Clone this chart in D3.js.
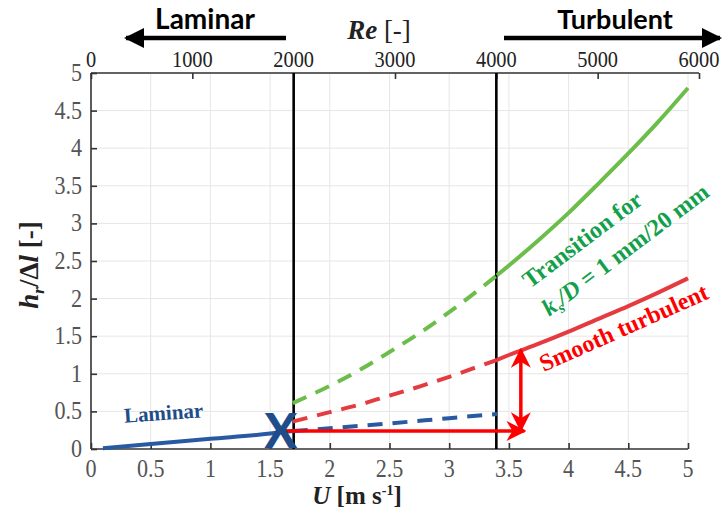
<!DOCTYPE html>
<html><head><meta charset="utf-8">
<script src="https://cdn.jsdelivr.net/npm/d3@7"></script>
<style>
html,body{margin:0;padding:0;background:#fff;}
svg{display:block;}
text.tl{font-family:'Liberation Serif','Times New Roman',serif;}
</style></head>
<body>
<svg id="chart" width="723" height="510"></svg>
<script>
// ---------- data ----------
const uTicks = [0,0.5,1,1.5,2,2.5,3,3.5,4,4.5,5];
const yTicks = [0,0.5,1,1.5,2,2.5,3,3.5,4,4.5,5];
const reTicks = [0,1000,2000,3000,4000,5000,6000];
const reBounds = [2000, 4000];          // laminar / turbulent limits
const uBounds = [1.69, 3.40];           // same limits in U
// laminar (blue)
const uLaminar = [0.1, 0.5, 1.0, 1.5, 1.69, 2.0, 2.5, 3.0, 3.4];
const hLaminar = [0.01, 0.065, 0.135, 0.205, 0.24, 0.275, 0.34, 0.41, 0.465];
// smooth turbulent (red) and transition (green)
const uTurb = [1.69, 2.0, 2.25, 2.5, 2.75, 3.0, 3.25, 3.4, 3.5, 3.75, 4.0, 4.25, 4.5, 4.75, 5.0];
const hSmooth = [0.365, 0.49, 0.59, 0.71, 0.83, 0.96, 1.10, 1.185, 1.25, 1.40, 1.56, 1.73, 1.90, 2.08, 2.27];
const hTransition = [0.61, 0.84, 1.05, 1.29, 1.54, 1.82, 2.12, 2.31, 2.44, 2.78, 3.14, 3.53, 3.93, 4.35, 4.80];
// annotation points
const criticalPoint = {u: 1.59, h: 0.235};
const arrowH = {u0: 1.62, u1: 3.63, h: 0.24};
const arrowV = {u: 3.60, h0: 0.25, h1: 1.32};

// ---------- layout ----------
const svg = d3.select("#chart");
const X0 = 91, X1 = 688, Y0 = 449, Y1 = 73, XR = 699;
const x = d3.scaleLinear().domain([0,5]).range([X0,X1]);
const y = d3.scaleLinear().domain([0,5]).range([Y0,Y1]);
const xRe = d3.scaleLinear().domain([0,6000]).range([X0,XR]);
const serif = "'Liberation Serif','Times New Roman',serif";
const sans = "Lato,'Open Sans',sans-serif";

const cBlue = "#2859a3", cRed = "#e53a3f", cGreen = "#6cbd4a";
const cBlueTxt = "#1f4d8a", cGreenTxt = "#13a04c", cArrow = "#ff0000";

// defs: arrowheads
const defs = svg.append("defs");
defs.append("marker").attr("id","redHead").attr("viewBox","0 0 10 10")
  .attr("refX", 9).attr("refY", 5).attr("markerWidth", 20).attr("markerHeight", 20)
  .attr("markerUnits","userSpaceOnUse").attr("orient","auto-start-reverse")
  .append("path").attr("d","M0,0 L10,5 L0,10 L3,5 Z").attr("fill", cArrow);
defs.append("marker").attr("id","blackHead").attr("viewBox","0 0 10 10")
  .attr("refX", 9).attr("refY", 5).attr("markerWidth", 24).attr("markerHeight", 20)
  .attr("markerUnits","userSpaceOnUse").attr("orient","auto-start-reverse")
  .append("path").attr("d","M0,0 L10,5 L0,10 Z").attr("fill", "#000");

// grid
const grid = svg.append("g");
grid.selectAll("line.gx").data(uTicks.filter(d=>d>0)).join("line")
  .attr("x1", d=>x(d)).attr("x2", d=>x(d)).attr("y1", Y0).attr("y2", Y1)
  .attr("stroke","#e6e6e6").attr("stroke-width",1);
grid.selectAll("line.gy").data(yTicks.filter(d=>d>0)).join("line")
  .attr("x1", X0).attr("x2", X1).attr("y1", d=>y(d)).attr("y2", d=>y(d))
  .attr("stroke","#e6e6e6").attr("stroke-width",1);

// axes (lines + ticks from d3 axes, labels drawn separately)
const axisColor = "#333";
const gB = svg.append("g").attr("transform",`translate(0,${Y0})`)
  .call(d3.axisBottom(x).tickValues(uTicks).tickSize(-6).tickFormat(()=>""));
const gL = svg.append("g").attr("transform",`translate(${X0},0)`)
  .call(d3.axisLeft(y).tickValues(yTicks).tickSize(-6).tickFormat(()=>""));
const gT = svg.append("g").attr("transform",`translate(0,${Y1})`)
  .call(d3.axisTop(xRe).tickValues(reTicks).tickSize(-6).tickFormat(()=>""));
[gB,gL,gT].forEach(g=>{
  g.select(".domain").attr("stroke",axisColor).attr("stroke-width",1.6);
  g.selectAll(".tick line").attr("stroke",axisColor).attr("stroke-width",1.6);
  g.selectAll(".tick text").remove();
});
gB.select(".domain").attr("d",`M${X0},0H${X1}`);
gL.select(".domain").attr("d",`M0,${Y0}V${Y1}`);
gT.select(".domain").attr("d",`M${X0},0H${XR}`);

// tick labels (tall, slightly condensed serif as in the reference)
const sx = 0.85;
const labels = svg.append("g");
labels.selectAll("text.bl").data(uTicks).join("text").attr("class","tl")
  .attr("transform", d=>`translate(${x(d)},${Y0+28}) scale(${sx},1)`).attr("text-anchor","middle")
  .attr("font-size",26).attr("fill","#555").text(d=>d3.format("")(d));
labels.selectAll("text.ll").data(yTicks).join("text").attr("class","tl")
  .attr("transform", d=>`translate(${X0-9},${y(d)+8}) scale(${sx},1)`).attr("text-anchor","end")
  .attr("font-size",26).attr("fill","#555").text(d=>d3.format("")(d));
labels.selectAll("text.tt").data(reTicks).join("text").attr("class","tl")
  .attr("transform", d=>`translate(${xRe(d)},${Y1-6}) scale(${sx},1)`).attr("text-anchor","middle")
  .attr("font-size",24).attr("fill","#222").text(d=>d3.format("")(d));

// regime boundaries
svg.selectAll("line.bound").data(reBounds).join("line")
  .attr("x1", d=>xRe(d)).attr("x2", d=>xRe(d)).attr("y1", Y0).attr("y2", Y1)
  .attr("stroke","#000").attr("stroke-width",2.6);

// curves
const line = d3.line().x(d=>x(d[0])).y(d=>y(d[1])).curve(d3.curveMonotoneX);
function seg(us, hs, lo, hi){ return us.map((u,i)=>[u,hs[i]]).filter(p=>p[0]>=lo-1e-9 && p[0]<=hi+1e-9); }
const curves = [
  {pts: seg(uLaminar,hLaminar,0,uBounds[0]), color:cBlue, dash:null},
  {pts: seg(uLaminar,hLaminar,uBounds[0],uBounds[1]), color:cBlue, dash:"15,10"},
  {pts: seg(uTurb,hSmooth,uBounds[0],uBounds[1]), color:cRed, dash:"15,10"},
  {pts: seg(uTurb,hSmooth,uBounds[1],5), color:cRed, dash:null},
  {pts: seg(uTurb,hTransition,uBounds[0],uBounds[1]), color:cGreen, dash:"15,10"},
  {pts: seg(uTurb,hTransition,uBounds[1],5), color:cGreen, dash:null}
];
svg.selectAll("path.curve").data(curves).join("path")
  .attr("d", d=>line(d.pts)).attr("fill","none").attr("stroke", d=>d.color)
  .attr("stroke-width",4).attr("stroke-dasharray", d=>d.dash);

// red arrows
svg.append("line").attr("x1", x(arrowH.u0)).attr("x2", x(arrowH.u1))
  .attr("y1", y(arrowH.h)).attr("y2", y(arrowH.h))
  .attr("stroke",cArrow).attr("stroke-width",3.5).attr("marker-end","url(#redHead)");
svg.append("line").attr("x1", x(arrowV.u)).attr("x2", x(arrowV.u))
  .attr("y1", y(arrowV.h0)).attr("y2", y(arrowV.h1))
  .attr("stroke",cArrow).attr("stroke-width",3.5)
  .attr("marker-end","url(#redHead)").attr("marker-start","url(#redHead)");

// X marker
svg.append("text").attr("x", x(criticalPoint.u)).attr("y", y(criticalPoint.h)+17)
  .attr("text-anchor","middle").attr("font-family",sans).attr("font-weight",900)
  .attr("font-size",48).attr("fill",cBlueTxt).text("X");

// in-plot labels
svg.append("text").attr("transform","translate(164,420) rotate(-4)")
  .attr("text-anchor","middle").attr("font-family",serif).attr("font-weight","bold")
  .attr("font-size",21).attr("fill",cBlueTxt).text("Laminar");
svg.append("text").attr("transform","translate(627,335) rotate(-24)")
  .attr("text-anchor","middle").attr("font-family",serif).attr("font-weight","bold")
  .attr("font-size",24).attr("fill",cArrow).text("Smooth turbulent");
svg.append("text").attr("transform","translate(587,246) rotate(-37)")
  .attr("text-anchor","middle").attr("font-family",serif).attr("font-weight","bold")
  .attr("font-size",24).attr("fill",cGreenTxt).text("Transition for");
const t2 = svg.append("text").attr("transform","translate(630,256) rotate(-37)")
  .attr("text-anchor","middle").attr("font-family",serif).attr("font-weight","bold")
  .attr("font-size",24).attr("fill",cGreenTxt);
t2.append("tspan").attr("font-style","italic").text("k");
t2.append("tspan").attr("font-size",15).attr("dy",5).attr("font-style","italic").text("s");
t2.append("tspan").attr("dy",-5).attr("font-style","italic").text("/D");
t2.append("tspan").text(" = 1 mm/20 mm");

// axis titles
const xt = svg.append("text").attr("x",357).attr("y",504).attr("text-anchor","middle")
  .attr("font-family",serif).attr("font-weight","bold").attr("font-size",25).attr("fill","#222");
xt.append("tspan").attr("font-style","italic").text("U");
xt.append("tspan").text(" [m s");
xt.append("tspan").attr("font-size",14).attr("dy",-9).text("-1");
xt.append("tspan").attr("dy",9).text("]");

const yt = svg.append("text").attr("transform","translate(38,265) rotate(-90)").attr("text-anchor","middle")
  .attr("font-family",serif).attr("font-weight","bold").attr("font-size",27).attr("fill","#222");
yt.append("tspan").attr("font-style","italic").text("h");
yt.append("tspan").attr("font-style","italic").attr("font-size",17).attr("dy",6).text("r");
yt.append("tspan").attr("dy",-6).text("/Δ");
yt.append("tspan").attr("font-style","italic").text("l");
yt.append("tspan").text(" [-]");

const rt = svg.append("text").attr("x",379).attr("y",39).attr("text-anchor","middle")
  .attr("font-family",serif).attr("font-size",27).attr("fill","#222");
rt.append("tspan").attr("font-style","italic").attr("font-weight","bold").text("Re");
rt.append("tspan").text(" [-]");

// regime headers with arrows
svg.append("text").attr("x",205).attr("y",29).attr("text-anchor","middle")
  .attr("font-family",sans).attr("font-weight","bold").attr("font-size",28).attr("fill","#000").text("Laminar");
svg.append("text").attr("x",615).attr("y",29).attr("text-anchor","middle")
  .attr("font-family",sans).attr("font-weight","bold").attr("font-size",27).attr("fill","#000").text("Turbulent");
svg.append("line").attr("x1",286).attr("x2",126).attr("y1",38).attr("y2",38)
  .attr("stroke","#000").attr("stroke-width",4.5).attr("marker-end","url(#blackHead)");
svg.append("line").attr("x1",504).attr("x2",720).attr("y1",38).attr("y2",38)
  .attr("stroke","#000").attr("stroke-width",4.5).attr("marker-end","url(#blackHead)");
</script>
</body></html>
